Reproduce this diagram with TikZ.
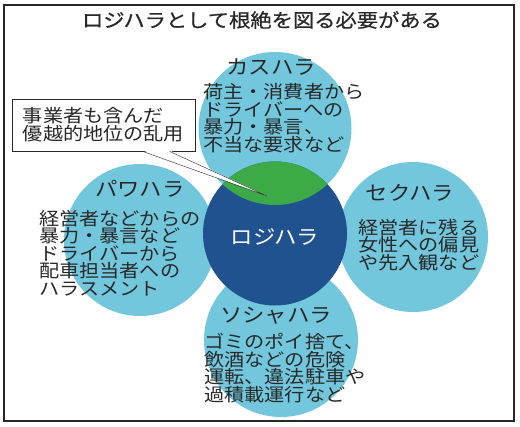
\documentclass[tikz,border=0pt]{standalone}
\usepackage{fontspec}
\setmainfont{Noto Sans CJK JP}[FakeStretch=1.12]
\newfontfamily\headfont{Noto Sans CJK JP}[FakeStretch=1.12, FakeBold=0.7]
\usetikzlibrary{positioning,calc}
\definecolor{harablue}{RGB}{114,199,221}
\definecolor{logiblue}{RGB}{31,82,142}
\definecolor{abusegreen}{RGB}{61,170,72}
\definecolor{inkgray}{RGB}{40,40,40}

\begin{document}
\begin{tikzpicture}[x=1pt, y=-1pt,
    harabubble/.style={fill=harablue},
    haralabel/.style={font=\fontsize{20}{22}\selectfont, text=inkgray, inner sep=0pt},
    harabody/.style={font=\fontsize{18}{17.5}\selectfont, text=inkgray, align=left, inner sep=0pt, anchor=west}]
  \useasboundingbox (0,0) rectangle (520,427);
  %% frame
  \draw[inkgray,line width=1.2pt] (4,5) rectangle (514,421);
  \node[font=\headfont\fontsize{19}{21}\selectfont, text=inkgray, inner sep=0pt] (headline) at (262,20)
    {ロジハラとして根絶を図る必要がある};
  %% bubbles
  \fill[harabubble] (275,128.5) circle (76.5);
  \fill[harabubble] (140,240) circle (76);
  \fill[harabubble] (413,237) circle (75);
  \fill[harabubble] (281,340) circle (77);
  \fill[logiblue] (275,233.5) circle (72);
  \begin{scope}
    \clip (275,128.5) circle (76.5);
    \fill[abusegreen] (275,233.5) circle (72);
  \end{scope}
  %% labels
  \node[haralabel] (kasu) at (271,67) {カスハラ};
  \node[harabody] (kasutext) at (203,118) {荷主・消費者から\\ドライバーへの\\暴力・暴言、\\不当な要求など};
  \node[haralabel] (pawa) at (140,189) {パワハラ};
  \node[harabody] (pawatext) at (39,253) {経営者などからの\\暴力・暴言など\\ドライバーから\\配車担当者への\\ハラスメント};
  \node[haralabel] (seku) at (410,193) {セクハラ};
  \node[harabody] (sekutext) at (358,245) {経営者に残る\\女性への偏見\\や先入観など};
  \node[haralabel] (sosha) at (276,316) {ソシャハラ};
  \node[harabody] (soshatext) at (204,368) {ゴミのポイ捨て、\\飲酒などの危険\\運転、違法駐車や\\過積載運行など};
  \node[haralabel, text=white] (logi) at (275,237) {ロジハラ};
  %% callout
  \node[draw=inkgray, fill=white, thick, minimum width=183pt, minimum height=52pt,
        inner sep=0pt, font=\fontsize{18}{18}\selectfont, text=inkgray, align=left] (callout)
    at (103.5,125) {事業者も含んだ\\優越的地位の乱用};
  \coordinate (tip) at (267,196);
  \fill[white] ($(callout.south west)+(131pt,1pt)$) -- (tip) -- ($(callout.south west)+(158pt,1pt)$) -- cycle;
  \draw[inkgray] ($(callout.south west)+(131pt,0)$) -- (tip) -- ($(callout.south west)+(158pt,0)$);
\end{tikzpicture}
\end{document}
